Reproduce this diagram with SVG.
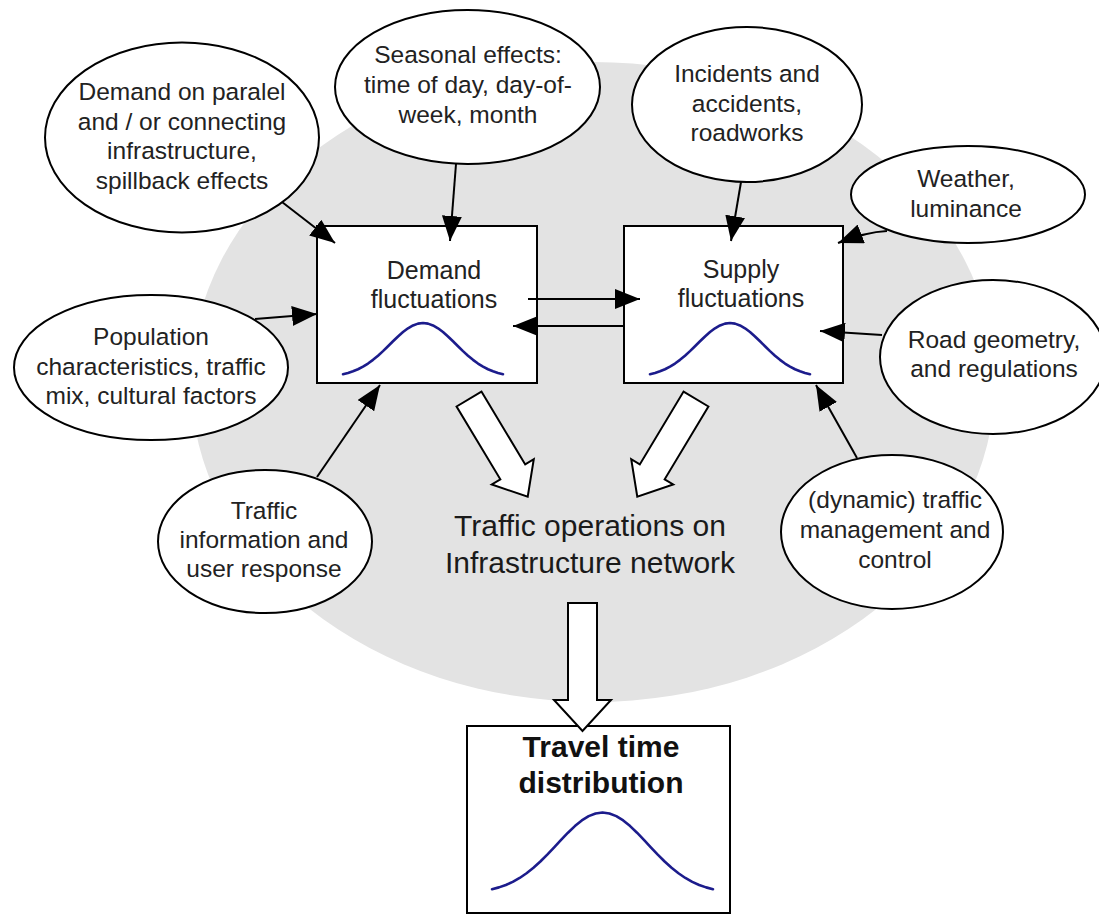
<svg xmlns="http://www.w3.org/2000/svg" xmlns:xlink="http://www.w3.org/1999/xlink" width="1099" height="918" viewBox="0 0 1099 918">
  <style>
    .bg { fill: #e3e3e3; }
    .node { fill: #ffffff; stroke: #000000; stroke-width: 2; }
    .lbl { font-family: "Liberation Sans", Arial, sans-serif; font-size: 24.5px; fill: #222222; text-anchor: middle; }
    .boxlbl { font-family: "Liberation Sans", Arial, sans-serif; font-size: 25px; fill: #222222; text-anchor: middle; }
    .big { font-family: "Liberation Sans", Arial, sans-serif; font-size: 30px; fill: #1a1a1a; text-anchor: middle; }
    .bold { font-family: "Liberation Sans", Arial, sans-serif; font-size: 30px; font-weight: bold; fill: #111111; text-anchor: middle; }
    .edge { fill: none; stroke: #000000; stroke-width: 2; marker-end: url(#head); }
    .flow { fill: #ffffff; stroke: #000000; stroke-width: 2; stroke-linejoin: miter; }
    .curve { fill: none; stroke: #1c1c8c; stroke-width: 2.6; stroke-linejoin: round; stroke-linecap: round; }
  </style>
  <defs>
    <marker id="head" viewBox="0 0 25 20" refX="25" refY="10" markerWidth="25" markerHeight="20" markerUnits="userSpaceOnUse" orient="auto">
      <path d="M0,0 L25,10 L0,20 z" fill="#000000"/>
    </marker>
    <!-- gaussian bell, centred on x=0, baseline y=0 -->
    <path id="bell" vector-effect="non-scaling-stroke" d="M-80,-2.86 L-75,-4.08 L-70,-5.69 L-65,-7.76 L-60,-10.34 L-55,-13.47 L-50,-17.13 L-45,-21.31 L-40,-25.9 L-35,-30.77 L-30,-35.72 L-25,-40.53 L-20,-44.94 L-15,-48.7 L-10,-51.58 L-5,-53.38 L0,-54 L5,-53.38 L10,-51.58 L15,-48.7 L20,-44.94 L25,-40.53 L30,-35.72 L35,-30.77 L40,-25.9 L45,-21.31 L50,-17.13 L55,-13.47 L60,-10.34 L65,-7.76 L70,-5.69 L75,-4.08 L80,-2.86"/>
  </defs>

  <!-- shaded system boundary -->
  <ellipse class="bg" cx="593" cy="382" rx="402" ry="320"/>

  <g id="parallel-demand">
    <ellipse class="node" cx="182" cy="137.5" rx="137" ry="95"/>
    <text class="lbl" x="182" y="100">Demand on paralel</text>
    <text class="lbl" x="182" y="130">and / or connecting</text>
    <text class="lbl" x="182" y="159">infrastructure,</text>
    <text class="lbl" x="182" y="189">spillback effects</text>
  </g>

  <g id="seasonal">
    <ellipse class="node" cx="467.5" cy="87" rx="132.5" ry="77"/>
    <text class="lbl" x="468" y="63">Seasonal effects:</text>
    <text class="lbl" x="468" y="93">time of day, day-of-</text>
    <text class="lbl" x="468" y="123">week, month</text>
  </g>

  <g id="incidents">
    <ellipse class="node" cx="747" cy="104.5" rx="115" ry="77.5"/>
    <text class="lbl" x="747" y="82">Incidents and</text>
    <text class="lbl" x="747" y="112">accidents,</text>
    <text class="lbl" x="747" y="141">roadworks</text>
  </g>

  <g id="weather">
    <ellipse class="node" cx="968" cy="194.5" rx="117" ry="48.5"/>
    <text class="lbl" x="966" y="187">Weather,</text>
    <text class="lbl" x="966" y="217">luminance</text>
  </g>

  <g id="population">
    <ellipse class="node" cx="151" cy="367.5" rx="137" ry="72.5"/>
    <text class="lbl" x="151" y="345">Population</text>
    <text class="lbl" x="151" y="375">characteristics, traffic</text>
    <text class="lbl" x="151" y="404">mix, cultural factors</text>
  </g>

  <g id="road-geometry">
    <ellipse class="node" cx="993" cy="357" rx="113" ry="77"/>
    <text class="lbl" x="994" y="348">Road geometry,</text>
    <text class="lbl" x="994" y="377">and regulations</text>
  </g>

  <g id="traffic-information">
    <ellipse class="node" cx="265" cy="541.5" rx="107" ry="71.5"/>
    <text class="lbl" x="264" y="519">Traffic</text>
    <text class="lbl" x="264" y="548">information and</text>
    <text class="lbl" x="264" y="577">user response</text>
  </g>

  <g id="traffic-management">
    <ellipse class="node" cx="892" cy="532" rx="111" ry="77"/>
    <text class="lbl" x="895" y="508">(dynamic) traffic</text>
    <text class="lbl" x="895" y="538">management and</text>
    <text class="lbl" x="895" y="568">control</text>
  </g>

  <g id="demand-fluctuations">
    <rect class="node" x="317" y="226" width="220" height="157"/>
    <text class="boxlbl" x="434" y="279">Demand</text>
    <text class="boxlbl" x="434" y="308">fluctuations</text>
    <use xlink:href="#bell" class="curve" transform="translate(423,377)"/>
  </g>

  <g id="supply-fluctuations">
    <rect class="node" x="624" y="226" width="219" height="157"/>
    <text class="boxlbl" x="741" y="278">Supply</text>
    <text class="boxlbl" x="741" y="307">fluctuations</text>
    <use xlink:href="#bell" class="curve" transform="translate(730,377)"/>
  </g>

  <g id="traffic-operations">
    <text class="big" x="590" y="536">Traffic operations on</text>
    <text class="big" x="590" y="573">Infrastructure network</text>
  </g>

  <g id="travel-time">
    <rect class="node" x="467" y="726" width="263" height="187"/>
    <text class="bold" x="601" y="757">Travel time</text>
    <text class="bold" x="601" y="793">distribution</text>
    <use xlink:href="#bell" class="curve" transform="translate(602.5,893.5) scale(1.381,1.5)"/>
  </g>

  <g id="connectors">
    <path class="edge" d="M282,202 L335,243"/>
    <path class="edge" d="M456,164 L450,241"/>
    <path class="edge" d="M255,319 L317,314"/>
    <path class="edge" d="M317,477 L380,385"/>
    <path class="edge" d="M741,182 L731,241"/>
    <path class="edge" d="M887,231 Q866,232 838,243"/>
    <path class="edge" d="M882,335 L820,331"/>
    <path class="edge" d="M857,458 L816,385"/>
    <path class="edge" d="M528,299 L640,299"/>
    <path class="edge" d="M625,326 L513,326"/>
    <!-- block arrows into and out of the operations layer -->
    <polygon class="flow" transform="translate(469,399) rotate(59)" points="0,-14.5 85,-14.5 85,-24.5 114,0 85,24.5 85,14.5 0,14.5"/>
    <polygon class="flow" transform="translate(696,399) rotate(121)" points="0,-14.5 85,-14.5 85,-24.5 114,0 85,24.5 85,14.5 0,14.5"/>
    <polygon class="flow" points="568,603 597,603 597,700 611,700 582.5,731 554,700 568,700"/>
  </g>
</svg>
